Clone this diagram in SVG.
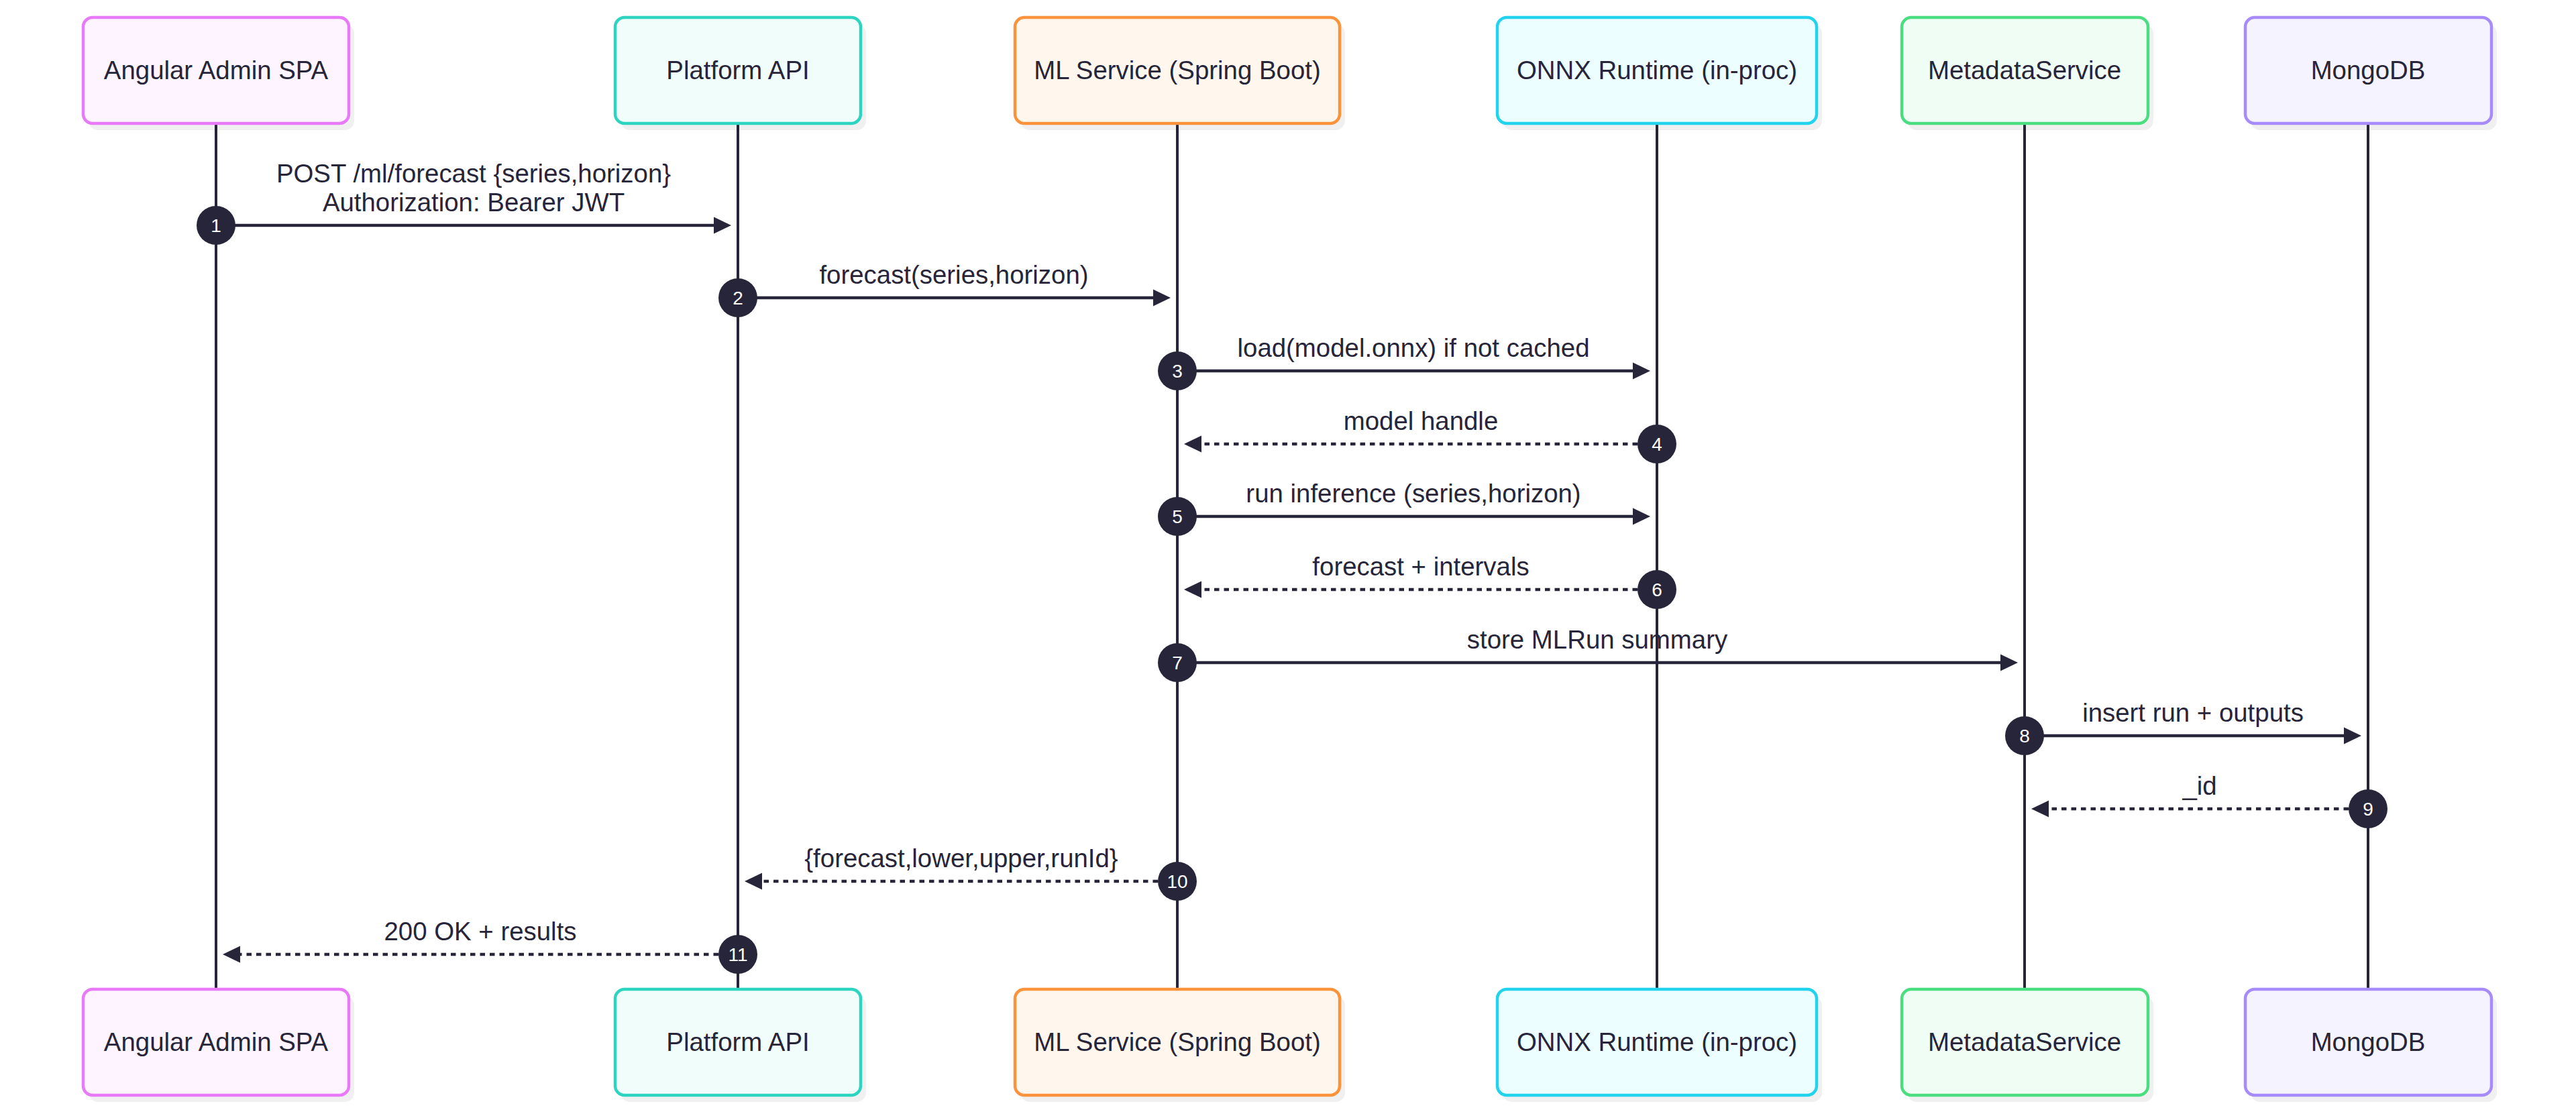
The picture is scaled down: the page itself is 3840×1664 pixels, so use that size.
<svg xmlns="http://www.w3.org/2000/svg" width="3840" height="1664" viewBox="0 0 3840 1664">
<defs>
<style>
.box{stroke-width:4.5}
.shadow{fill:#000;fill-opacity:0.06}
.atxt{font-family:"Liberation Sans",Arial,sans-serif;font-size:38.4px;fill:#272539;text-anchor:middle}
.life{stroke:#272539;stroke-width:4;fill:none}
.msg{stroke:#272539;stroke-width:4.5;fill:none}
.dot{stroke-dasharray:7.5 7}
.lbl{font-family:"Liberation Sans",Arial,sans-serif;font-size:38.4px;fill:#272539;text-anchor:middle}
.num{fill:#272539}
.numt{font-family:"Liberation Sans",Arial,sans-serif;font-size:28px;fill:#ffffff;text-anchor:middle}
.head{fill:#272539}
</style>
</defs>
<rect width="3840" height="1664" fill="#ffffff"/>

<g id="lifelines">
<line class="life" x1="322" y1="186" x2="322" y2="1473"/>
<line class="life" x1="1100" y1="186" x2="1100" y2="1473"/>
<line class="life" x1="1755" y1="186" x2="1755" y2="1473"/>
<line class="life" x1="2470" y1="186" x2="2470" y2="1473"/>
<line class="life" x1="3018" y1="186" x2="3018" y2="1473"/>
<line class="life" x1="3530" y1="186" x2="3530" y2="1473"/>
</g>

<g id="actor-angular">
<rect class="shadow" x="132" y="36" width="396" height="158" rx="14"/>
<rect class="box" x="124" y="26" width="396" height="158" rx="14" fill="#fdf4ff" stroke="#e879f9"/>
<text class="atxt" x="322" y="118">Angular Admin SPA</text>
<rect class="shadow" x="132" y="1485" width="396" height="158" rx="14"/>
<rect class="box" x="124" y="1475" width="396" height="158" rx="14" fill="#fdf4ff" stroke="#e879f9"/>
<text class="atxt" x="322" y="1567">Angular Admin SPA</text>
</g>

<g id="actor-platform">
<rect class="shadow" x="925" y="36" width="366" height="158" rx="14"/>
<rect class="box" x="917" y="26" width="366" height="158" rx="14" fill="#f0fdfa" stroke="#2dd4bf"/>
<text class="atxt" x="1100" y="118">Platform API</text>
<rect class="shadow" x="925" y="1485" width="366" height="158" rx="14"/>
<rect class="box" x="917" y="1475" width="366" height="158" rx="14" fill="#f0fdfa" stroke="#2dd4bf"/>
<text class="atxt" x="1100" y="1567">Platform API</text>
</g>

<g id="actor-ml">
<rect class="shadow" x="1521" y="36" width="484" height="158" rx="14"/>
<rect class="box" x="1513" y="26" width="484" height="158" rx="14" fill="#fff7ed" stroke="#fb923c"/>
<text class="atxt" x="1755" y="118">ML Service (Spring Boot)</text>
<rect class="shadow" x="1521" y="1485" width="484" height="158" rx="14"/>
<rect class="box" x="1513" y="1475" width="484" height="158" rx="14" fill="#fff7ed" stroke="#fb923c"/>
<text class="atxt" x="1755" y="1567">ML Service (Spring Boot)</text>
</g>

<g id="actor-onnx">
<rect class="shadow" x="2240" y="36" width="476" height="158" rx="14"/>
<rect class="box" x="2232" y="26" width="476" height="158" rx="14" fill="#ecfeff" stroke="#22d3ee"/>
<text class="atxt" x="2470" y="118">ONNX Runtime (in-proc)</text>
<rect class="shadow" x="2240" y="1485" width="476" height="158" rx="14"/>
<rect class="box" x="2232" y="1475" width="476" height="158" rx="14" fill="#ecfeff" stroke="#22d3ee"/>
<text class="atxt" x="2470" y="1567">ONNX Runtime (in-proc)</text>
</g>

<g id="actor-metadata">
<rect class="shadow" x="2843" y="36" width="367" height="158" rx="14"/>
<rect class="box" x="2835" y="26" width="367" height="158" rx="14" fill="#f0fdf4" stroke="#4ade80"/>
<text class="atxt" x="3018" y="118">MetadataService</text>
<rect class="shadow" x="2843" y="1485" width="367" height="158" rx="14"/>
<rect class="box" x="2835" y="1475" width="367" height="158" rx="14" fill="#f0fdf4" stroke="#4ade80"/>
<text class="atxt" x="3018" y="1567">MetadataService</text>
</g>

<g id="actor-mongo">
<rect class="shadow" x="3355" y="36" width="367" height="158" rx="14"/>
<rect class="box" x="3347" y="26" width="367" height="158" rx="14" fill="#f5f3ff" stroke="#a78bfa"/>
<text class="atxt" x="3530" y="118">MongoDB</text>
<rect class="shadow" x="3355" y="1485" width="367" height="158" rx="14"/>
<rect class="box" x="3347" y="1475" width="367" height="158" rx="14" fill="#f5f3ff" stroke="#a78bfa"/>
<text class="atxt" x="3530" y="1567">MongoDB</text>
</g>

<g id="messages">
<!-- 1 -->
<line class="msg" x1="322" y1="336" x2="1066" y2="336"/>
<polygon class="head" points="1090,336 1064,323.5 1064,348.5"/>
<text class="lbl" x="706" y="272">POST /ml/forecast {series,horizon}</text>
<text class="lbl" x="706" y="315">Authorization: Bearer JWT</text>
<circle class="num" cx="322" cy="336" r="29"/><text class="numt" x="322" y="346">1</text>
<!-- 2 -->
<line class="msg" x1="1100" y1="444" x2="1721" y2="444"/>
<polygon class="head" points="1745,444 1719,431.5 1719,456.5"/>
<text class="lbl" x="1422" y="423">forecast(series,horizon)</text>
<circle class="num" cx="1100" cy="444" r="29"/><text class="numt" x="1100" y="454">2</text>
<!-- 3 -->
<line class="msg" x1="1755" y1="553" x2="2436" y2="553"/>
<polygon class="head" points="2460,553 2434,540.5 2434,565.5"/>
<text class="lbl" x="2107" y="532">load(model.onnx) if not cached</text>
<circle class="num" cx="1755" cy="553" r="29"/><text class="numt" x="1755" y="563">3</text>
<!-- 4 -->
<line class="msg dot" x1="2470" y1="662" x2="1789" y2="662"/>
<polygon class="head" points="1765,662 1791,649.5 1791,674.5"/>
<text class="lbl" x="2118" y="641">model handle</text>
<circle class="num" cx="2470" cy="662" r="29"/><text class="numt" x="2470" y="672">4</text>
<!-- 5 -->
<line class="msg" x1="1755" y1="770" x2="2436" y2="770"/>
<polygon class="head" points="2460,770 2434,757.5 2434,782.5"/>
<text class="lbl" x="2107" y="749">run inference (series,horizon)</text>
<circle class="num" cx="1755" cy="770" r="29"/><text class="numt" x="1755" y="780">5</text>
<!-- 6 -->
<line class="msg dot" x1="2470" y1="879" x2="1789" y2="879"/>
<polygon class="head" points="1765,879 1791,866.5 1791,891.5"/>
<text class="lbl" x="2118" y="858">forecast + intervals</text>
<circle class="num" cx="2470" cy="879" r="29"/><text class="numt" x="2470" y="889">6</text>
<!-- 7 -->
<line class="msg" x1="1755" y1="988" x2="2984" y2="988"/>
<polygon class="head" points="3008,988 2982,975.5 2982,1000.5"/>
<text class="lbl" x="2381" y="967">store MLRun summary</text>
<circle class="num" cx="1755" cy="988" r="29"/><text class="numt" x="1755" y="998">7</text>
<!-- 8 -->
<line class="msg" x1="3018" y1="1097" x2="3496" y2="1097"/>
<polygon class="head" points="3520,1097 3494,1084.5 3494,1109.5"/>
<text class="lbl" x="3269" y="1076">insert run + outputs</text>
<circle class="num" cx="3018" cy="1097" r="29"/><text class="numt" x="3018" y="1107">8</text>
<!-- 9 -->
<line class="msg dot" x1="3530" y1="1206" x2="3052" y2="1206"/>
<polygon class="head" points="3028,1206 3054,1193.5 3054,1218.5"/>
<text class="lbl" x="3279" y="1185">_id</text>
<circle class="num" cx="3530" cy="1206" r="29"/><text class="numt" x="3530" y="1216">9</text>
<!-- 10 -->
<line class="msg dot" x1="1755" y1="1314" x2="1134" y2="1314"/>
<polygon class="head" points="1110,1314 1136,1301.5 1136,1326.5"/>
<text class="lbl" x="1433" y="1293">{forecast,lower,upper,runId}</text>
<circle class="num" cx="1755" cy="1314" r="29"/><text class="numt" x="1755" y="1324">10</text>
<!-- 11 -->
<line class="msg dot" x1="1100" y1="1423" x2="356" y2="1423"/>
<polygon class="head" points="332,1423 358,1410.5 358,1435.5"/>
<text class="lbl" x="716" y="1402">200 OK + results</text>
<circle class="num" cx="1100" cy="1423" r="29"/><text class="numt" x="1100" y="1433">11</text>
</g>
</svg>
